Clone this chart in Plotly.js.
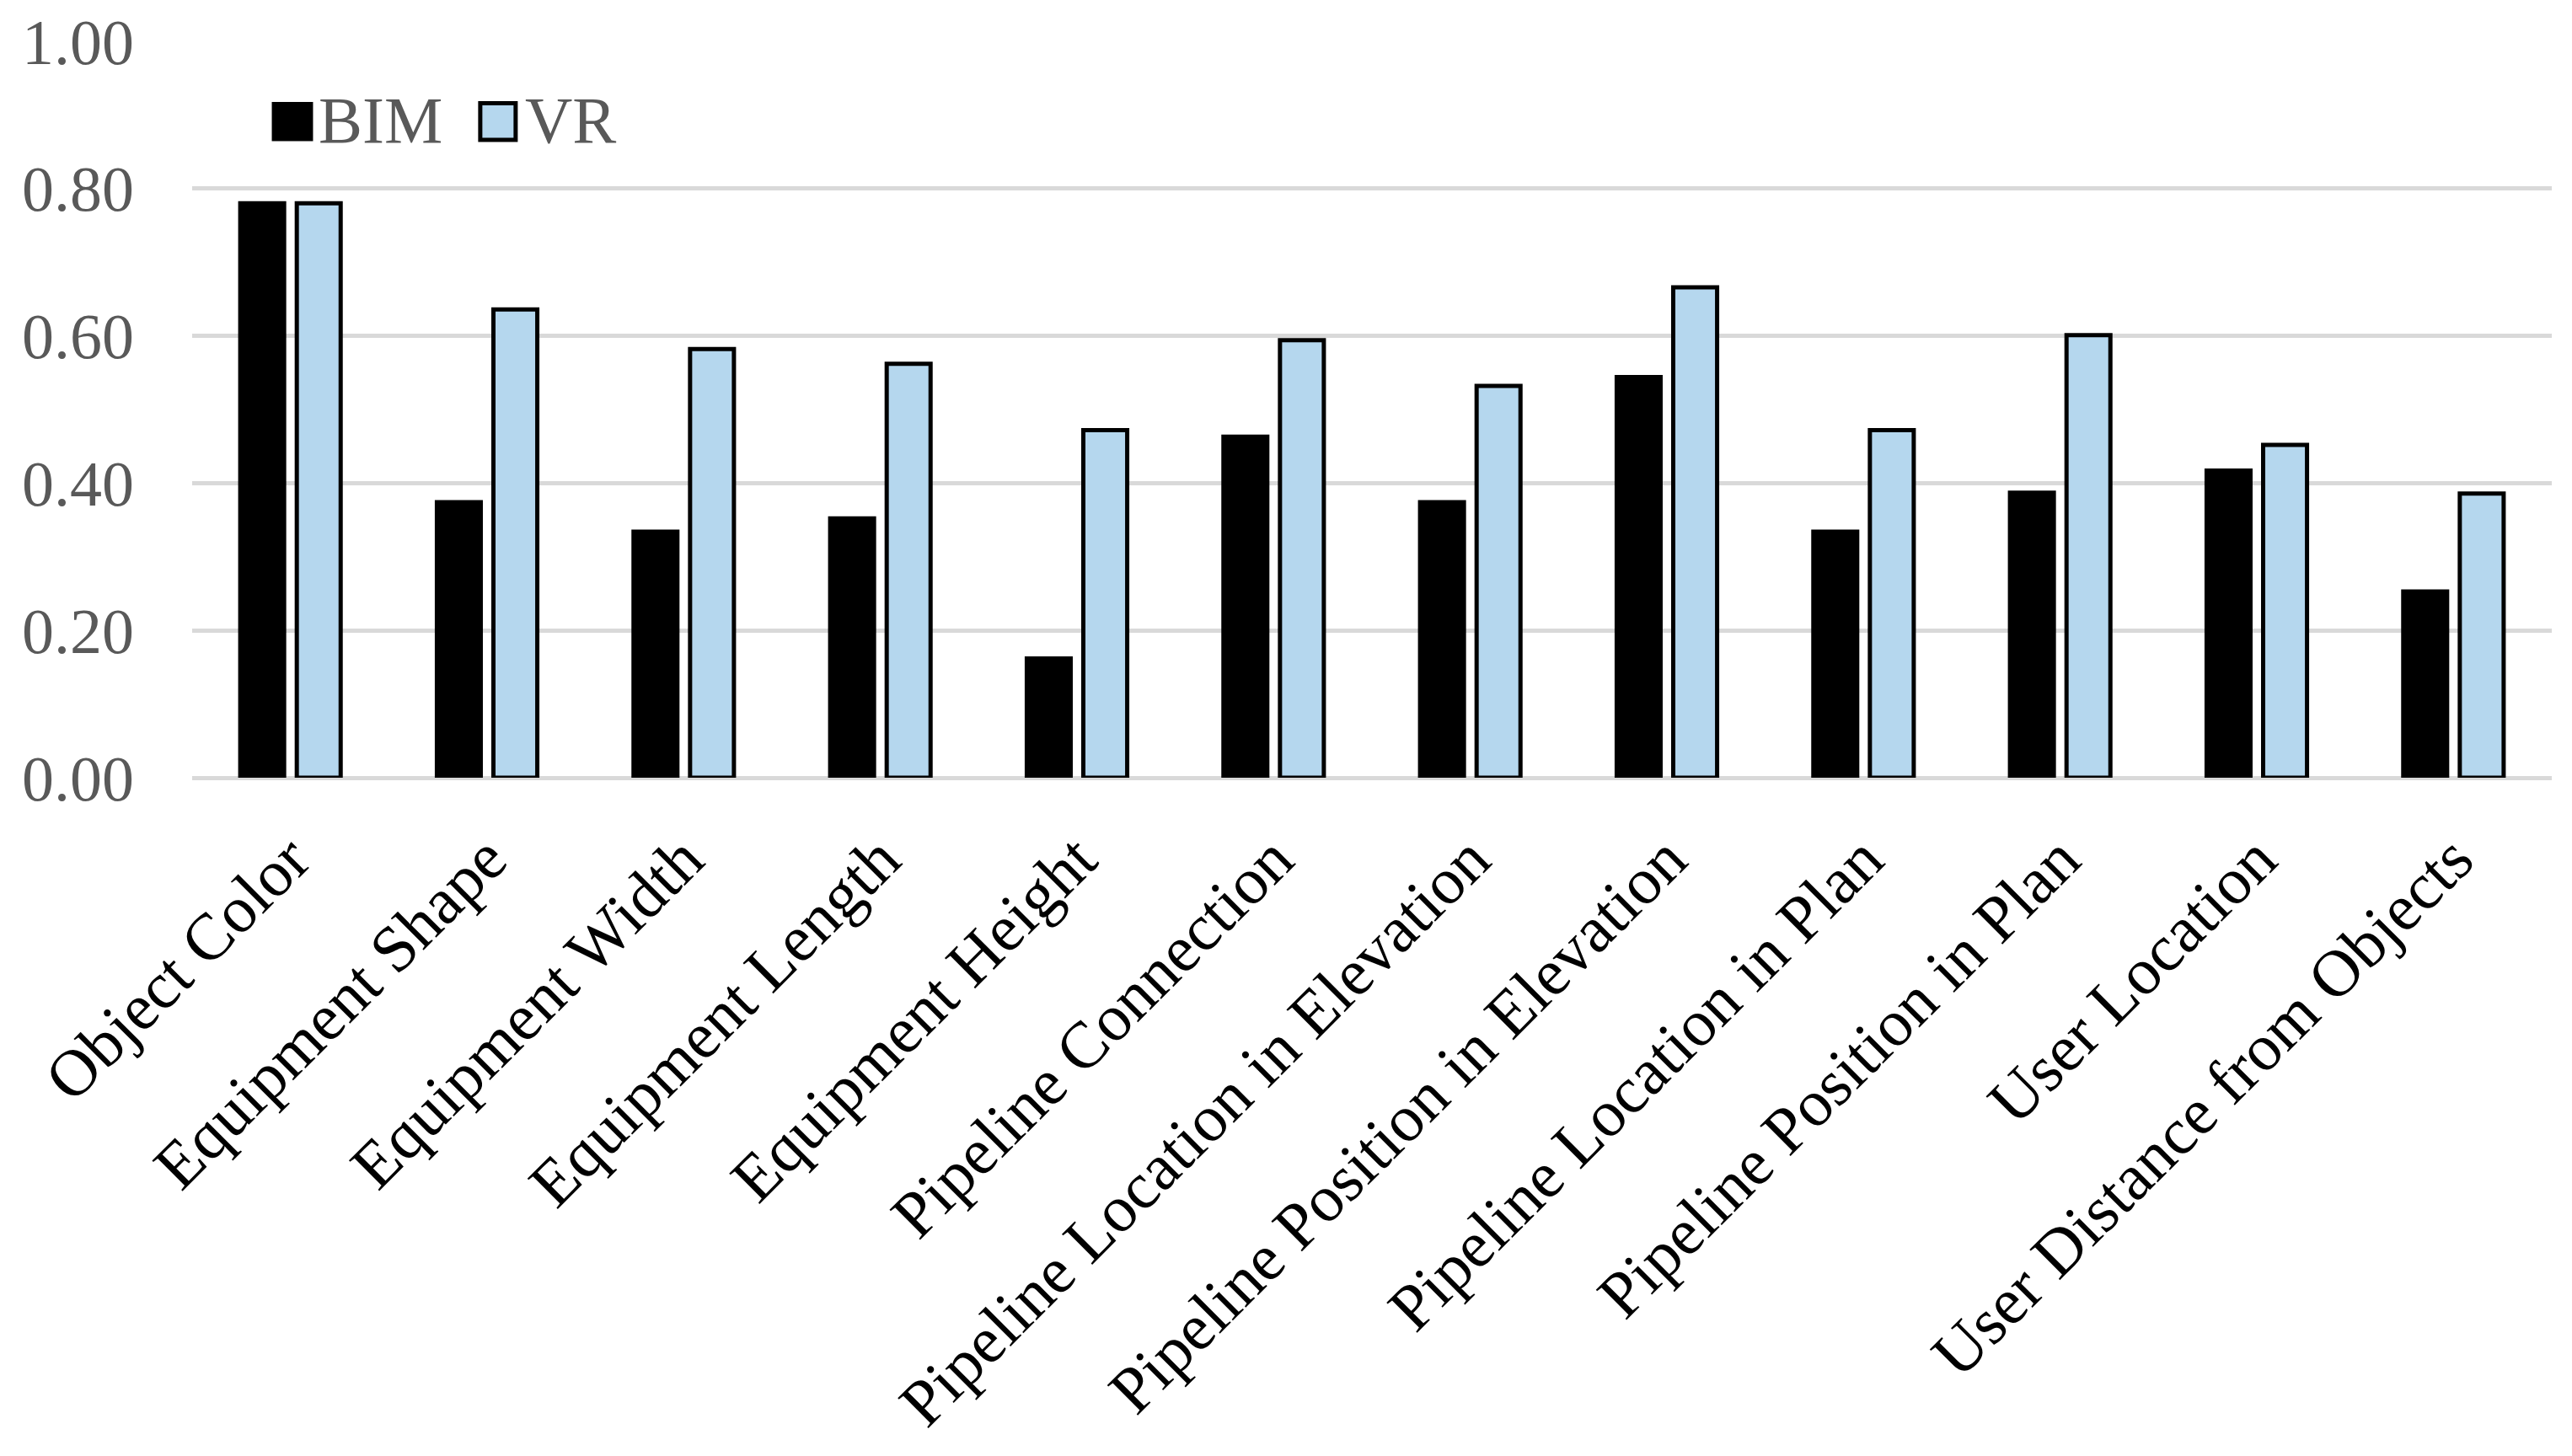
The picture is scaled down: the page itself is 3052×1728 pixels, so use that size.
<!DOCTYPE html>
<html>
<head>
<meta charset="utf-8">
<script src="https://cdn.plot.ly/plotly-3.0.1.min.js"></script>
<style>
  html, body { margin: 0; padding: 0; background: #ffffff; }
  #chart { width: 3052px; height: 1728px; }
</style>
</head>
<body>
<div id="chart"></div>
<script>
// ---- Data ----
const categories = [
  "Object Color",
  "Equipment Shape",
  "Equipment Width",
  "Equipment Length",
  "Equipment Height",
  "Pipeline Connection",
  "Pipeline Location in Elevation",
  "Pipeline Position in Elevation",
  "Pipeline Location in Plan",
  "Pipeline Position in Plan",
  "User Location",
  "User Distance from Objects"
];
const seriesNames = ["BIM", "VR"];
const bimValues = [0.78, 0.374, 0.334, 0.352, 0.162, 0.463, 0.374, 0.544, 0.334, 0.387, 0.417, 0.253];
const vrValues  = [0.78, 0.636, 0.582, 0.562, 0.472, 0.594, 0.532, 0.666, 0.472, 0.601, 0.452, 0.386];
const yTickValues = [0, 0.2, 0.4, 0.6, 0.8, 1.0];
const yTickLabels = ["0.00", "0.20", "0.40", "0.60", "0.80", "1.00"];

// ---- Styles ----
const FONT = "'Liberation Serif', 'Times New Roman', serif";
const bimColor = "#000000";
const vrColor = "#b5d7ee";
const edgeColor = "#000000";
const gridColor = "#d9d9d9";
const axisTextColor = "#595959";

const traces = [
  {
    type: "bar",
    name: seriesNames[0],
    x: categories,
    y: bimValues,
    marker: { color: bimColor, line: { color: edgeColor, width: 5 } },
    showlegend: false,
    hoverinfo: "x+y+name"
  },
  {
    type: "bar",
    name: seriesNames[1],
    x: categories,
    y: vrValues,
    marker: { color: vrColor, line: { color: edgeColor, width: 5 } },
    showlegend: false,
    hoverinfo: "x+y+name"
  }
];

// Legend drawn as layout items (paper coordinates) so swatches match the reference size
const legendShapes = [
  { type: "rect", xref: "paper", yref: "paper", x0: 0.0343, x1: 0.0507, y0: 0.866, y1: 0.916,
    fillcolor: bimColor, line: { color: edgeColor, width: 3 } },
  { type: "rect", xref: "paper", yref: "paper", x0: 0.1221, x1: 0.1371, y0: 0.866, y1: 0.916,
    fillcolor: vrColor, line: { color: edgeColor, width: 5 } }
];
const legendAnnotations = [
  { xref: "paper", yref: "paper", x: 0.053, y: 0.893, xanchor: "left", yanchor: "middle",
    text: seriesNames[0], showarrow: false, font: { family: FONT, size: 78, color: axisTextColor } },
  { xref: "paper", yref: "paper", x: 0.1405, y: 0.893, xanchor: "left", yanchor: "middle",
    text: seriesNames[1], showarrow: false, font: { family: FONT, size: 78, color: axisTextColor } }
];

const layout = {
  width: 3052,
  height: 1728,
  margin: { l: 228, r: 24, t: 49, b: 805, pad: 0 },
  paper_bgcolor: "#ffffff",
  plot_bgcolor: "#ffffff",
  barmode: "group",
  bargap: 0.425,
  bargroupgap: 0.224,
  showlegend: false,
  xaxis: {
    type: "category",
    tickangle: -45,
    tickfont: { family: FONT, size: 78, color: "#000000" },
    showgrid: false,
    showline: false,
    ticks: "",
    ticklabelstandoff: 34,
    automargin: false,
    fixedrange: true
  },
  yaxis: {
    range: [0, 1],
    tickmode: "array",
    tickvals: yTickValues,
    ticktext: yTickLabels,
    tickfont: { family: FONT, size: 76, color: axisTextColor },
    showgrid: true,
    gridcolor: gridColor,
    gridwidth: 5,
    zeroline: true,
    zerolinecolor: gridColor,
    zerolinewidth: 5,
    showline: false,
    ticks: "",
    ticklabelstandoff: 68,
    automargin: false,
    fixedrange: true
  },
  shapes: legendShapes,
  annotations: legendAnnotations
};

Plotly.newPlot("chart", traces, layout, { displayModeBar: false, staticPlot: true });
</script>
</body>
</html>
